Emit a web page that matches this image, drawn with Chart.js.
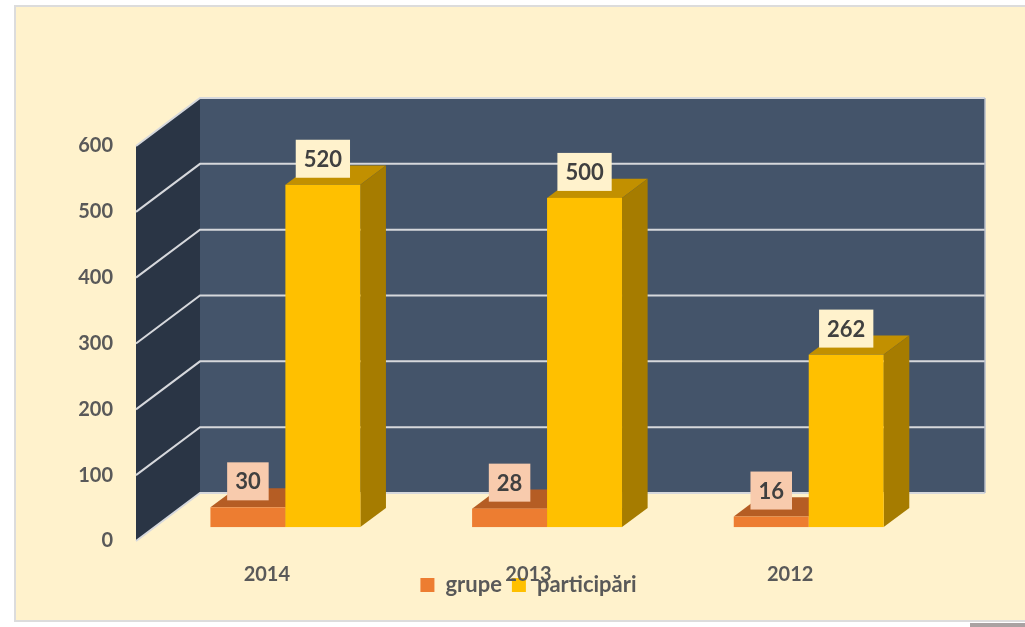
<!DOCTYPE html>
<html>
<head>
<meta charset="utf-8">
<script src="https://cdn.jsdelivr.net/npm/chart.js@4.4.1/dist/chart.umd.min.js"></script>
<style>
html, body { margin: 0; padding: 0; background: #fff; width: 1025px; height: 627px; overflow: hidden; }
#box { position: absolute; left: 14px; top: 5px; width: 1020px; height: 617px; background: #FFF2CC; border: 2px solid #DCDCDC; box-sizing: border-box; }
#corner { position: absolute; left: 970px; top: 623px; width: 55px; height: 4px; background: #A9A2A2; }
#wrap { position: absolute; left: 0; top: 0; width: 1025px; height: 627px; }
</style>
</head>
<body>
<div id="box"></div>
<div id="corner"></div>
<div id="wrap"><canvas id="BarChart" width="1025" height="627"></canvas></div>
<script>
// data
const years = ['2014', '2013', '2012'];
const grupe = [30, 28, 16];
const participari = [520, 500, 262];
const seriesNames = ['grupe', 'participări'];
const yMin = 0, yMax = 600, yStep = 100;

// fake 3d look
const DX = 64, DY = -48;          // depth of the walls
const BAR_FRONT = 0.29;           // where the bars sit in the depth
const BAR_DEPTH = 0.40;           // how deep the bars are
const colors = [
    { front: '#ED7D31', top: '#B55D24', side: '#A65520', label: '#F8CBAD' },
    { front: '#FFC000', top: '#C29000', side: '#A67C00', label: '#FFF2CC' }
];
const FONT = 'Lato, "Open Sans", sans-serif';

function drawBar(ctx, el, c) {
    const fx = BAR_FRONT * DX, fy = BAR_FRONT * DY;
    const dx = BAR_DEPTH * DX, dy = BAR_DEPTH * DY;
    const l = el.x - el.width / 2 + fx, r = el.x + el.width / 2 + fx;
    const t = el.y + fy, b = el.base + fy;
    // top
    ctx.fillStyle = c.top;
    ctx.beginPath();
    ctx.moveTo(l, t); ctx.lineTo(l + dx, t + dy); ctx.lineTo(r + dx, t + dy); ctx.lineTo(r, t);
    ctx.closePath(); ctx.fill();
    // side
    ctx.fillStyle = c.side;
    ctx.beginPath();
    ctx.moveTo(r, t); ctx.lineTo(r + dx, t + dy); ctx.lineTo(r + dx, b + dy); ctx.lineTo(r, b);
    ctx.closePath(); ctx.fill();
    // front
    ctx.fillStyle = c.front;
    ctx.fillRect(l, t, r - l, b - t);
}

function drawLabel(ctx, el, c, value) {
    const fx = BAR_FRONT * DX, fy = BAR_FRONT * DY;
    const cx = el.x + fx;
    const bottom = el.y + fy - 7;
    ctx.font = 'bold 22px ' + FONT;
    const w = ctx.measureText(String(value)).width + 16;
    const h = 38;
    ctx.fillStyle = c.label;
    ctx.fillRect(cx - w / 2, bottom - h, w, h);
    ctx.fillStyle = '#404040';
    ctx.textAlign = 'center';
    ctx.textBaseline = 'middle';
    ctx.fillText(String(value), cx, bottom - h / 2 + 1);
}

const box3d = {
    id: 'box3d',
    afterLayout(chart) {
        // let the year labels run down into the legend strip, as in the picture
        chart.scales.x.bottom = chart.height;
    },
    beforeDatasetsDraw(chart) {
        const ctx = chart.ctx, ca = chart.chartArea, y = chart.scales.y;
        ctx.save();
        // back wall
        ctx.fillStyle = '#44546A';
        ctx.fillRect(ca.left + DX, ca.top + DY, ca.right - ca.left, ca.bottom - ca.top);
        // side wall
        ctx.fillStyle = '#2A3545';
        ctx.beginPath();
        ctx.moveTo(ca.left, ca.top);
        ctx.lineTo(ca.left + DX, ca.top + DY);
        ctx.lineTo(ca.left + DX, ca.bottom + DY);
        ctx.lineTo(ca.left, ca.bottom);
        ctx.closePath();
        ctx.fill();
        // grid lines on both walls
        ctx.strokeStyle = '#D6D8DC';
        ctx.lineWidth = 2;
        for (let v = yMin; v <= yMax; v += yStep) {
            const py = y.getPixelForValue(v);
            ctx.beginPath();
            ctx.moveTo(ca.left, py);
            ctx.lineTo(ca.left + DX, py + DY);
            ctx.lineTo(ca.right + DX, py + DY);
            ctx.stroke();
        }
        ctx.lineWidth = 1.5;
        ctx.strokeStyle = '#B8BEC8';
        ctx.beginPath();
        ctx.moveTo(ca.right + DX, ca.top + DY);
        ctx.lineTo(ca.right + DX, ca.bottom + DY);
        ctx.stroke();

        // bars, category by category so the sides overlap right
        const n = chart.data.labels.length;
        const metas = chart.data.datasets.map((d, k) => chart.getDatasetMeta(k));
        for (let i = 0; i < n; i++) {
            metas.forEach((m, k) => drawBar(ctx, m.data[i], colors[k]));
        }
        for (let i = 0; i < n; i++) {
            metas.forEach((m, k) => drawLabel(ctx, m.data[i], colors[k], chart.data.datasets[k].data[i]));
        }
        ctx.restore();
        return false;
    }
};

const config = {
    type: 'bar',
    data: {
        labels: years,
        datasets: [
            { label: seriesNames[0], data: grupe, backgroundColor: colors[0].front },
            { label: seriesNames[1], data: participari, backgroundColor: colors[1].front }
        ]
    },
    options: {
        responsive: false,
        animation: false,
        categoryPercentage: 0.573,
        barPercentage: 1.0,
        layout: { padding: { left: 0, right: 104, top: 146, bottom: 21 } },
        plugins: {
            tooltip: { enabled: false },
            legend: {
                position: 'bottom',
                fullSize: false,
                labels: {
                    boxWidth: 14,
                    boxHeight: 14,
                    padding: 10,
                    color: '#595959',
                    font: { family: FONT, size: 22, weight: 'bold' }
                }
            }
        },
        scales: {
            x: {
                grid: { display: false, drawTicks: false },
                border: { display: false },
                ticks: { color: '#595959', padding: 22, font: { family: FONT, size: 20, weight: 'bold' } },
                afterFit(s) { s.height = 23; }
            },
            y: {
                min: yMin,
                max: yMax,
                grid: { display: false, drawTicks: false },
                border: { display: false },
                ticks: { stepSize: yStep, color: '#595959', padding: 23, font: { family: FONT, size: 20, weight: 'bold' } },
                afterFit(s) { s.width = 136; }
            }
        }
    },
    plugins: [box3d]
};

new Chart(document.getElementById('BarChart'), config);
</script>
</body>
</html>
